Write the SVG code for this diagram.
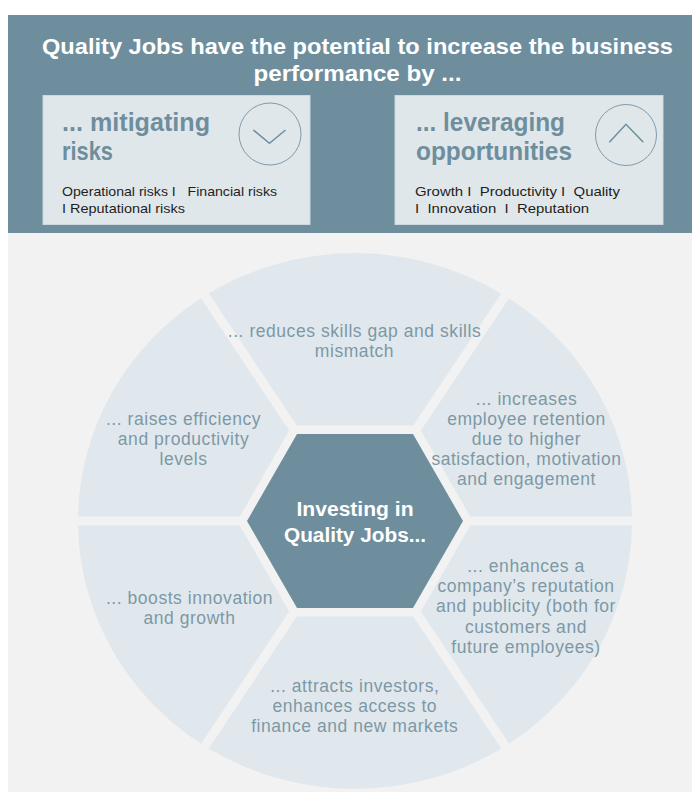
<svg xmlns="http://www.w3.org/2000/svg" width="692" height="793" viewBox="0 0 692 793">
  <style>
    .title { font-family: "Liberation Sans", Arial, sans-serif; font-weight: 700; font-size: 22px; fill: #ffffff; text-anchor: middle; }
    .boxtitle { font-family: "Liberation Sans", Arial, sans-serif; font-weight: 700; font-size: 25px; fill: #6e8e9d; }
    .small { font-family: "Liberation Sans", Arial, sans-serif; font-size: 13px; fill: #1e1e1e; }
    .seg { fill: #e1e8ed; }
    .segtxt { font-family: "Liberation Sans", Arial, sans-serif; font-size: 17.5px; letter-spacing: 0.55px; fill: #7d98a6; text-anchor: middle; }
    .hubtxt { font-family: "Liberation Sans", Arial, sans-serif; font-weight: 700; font-size: 20px; fill: #ffffff; text-anchor: middle; }
    .box { fill: #e0e7eb; stroke: #cdd8de; stroke-width: 1; }
    .icon { fill: none; stroke: #7f9bab; stroke-width: 1; }
    .chev { fill: none; stroke: #6e8e9d; stroke-width: 1.5; }
  </style>

  <rect x="0" y="0" width="692" height="793" fill="#ffffff"/>
  <rect id="body-bg" x="8" y="233" width="684" height="559" fill="#f2f2f2"/>

  <g id="header">
    <rect x="8" y="15" width="684" height="218" fill="#6e8e9d"/>
    <text class="title" x="357.5" y="54" textLength="631" lengthAdjust="spacingAndGlyphs">Quality Jobs have the potential to increase the business</text>
    <text class="title" x="357.5" y="81" textLength="208" lengthAdjust="spacingAndGlyphs">performance by ...</text>
  </g>

  <g id="box-risks">
    <rect class="box" x="43" y="95.5" width="267" height="129"/>
    <text class="boxtitle" x="62" y="131" textLength="148" lengthAdjust="spacingAndGlyphs">... mitigating</text>
    <text class="boxtitle" x="62" y="160" textLength="51" lengthAdjust="spacingAndGlyphs">risks</text>
    <circle class="icon" cx="270" cy="134" r="31"/>
    <polyline class="chev" points="253.3,130 269.5,143.3 285.5,130"/>
    <text class="small" x="62" y="196" xml:space="preserve" textLength="215" lengthAdjust="spacingAndGlyphs">Operational risks I   Financial risks</text>
    <text class="small" x="62" y="213" xml:space="preserve" textLength="123" lengthAdjust="spacingAndGlyphs">I Reputational risks</text>
  </g>

  <g id="box-opportunities">
    <rect class="box" x="395" y="95.5" width="268" height="129"/>
    <text class="boxtitle" x="416" y="131" textLength="149" lengthAdjust="spacingAndGlyphs">... leveraging</text>
    <text class="boxtitle" x="416" y="160" textLength="156" lengthAdjust="spacingAndGlyphs">opportunities</text>
    <circle class="icon" cx="626" cy="135" r="30.5"/>
    <polyline class="chev" points="609.3,142.3 626,124.3 643.3,142.3"/>
    <text class="small" x="415" y="196" xml:space="preserve" textLength="205" lengthAdjust="spacingAndGlyphs">Growth I  Productivity I  Quality</text>
    <text class="small" x="415" y="213" xml:space="preserve" textLength="174" lengthAdjust="spacingAndGlyphs">I  Innovation  I  Reputation</text>
  </g>

  <g id="seg-top">
    <path class="seg" d="M296.7,425.5 L413.3,425.5 L501.25,293.5 A277,268 0 0,0 208.75,293.5 Z"/>
    <text class="segtxt"><tspan x="354.5" y="336.5">... reduces skills gap and skills</tspan><tspan x="354.5" y="356.5">mismatch</tspan></text>
  </g>

  <g id="seg-upper-right">
    <path class="seg" d="M420.8,430.5 L509,298.2 A277,268 0 0,1 632,516.5 L470.2,516.5 Z"/>
    <text class="segtxt"><tspan x="526.5" y="404.5">... increases</tspan><tspan x="526.5" y="424.5">employee retention</tspan><tspan x="526.5" y="444.5">due to higher</tspan><tspan x="526.5" y="465">satisfaction, motivation</tspan><tspan x="526.5" y="485">and engagement</tspan></text>
  </g>

  <g id="seg-lower-right">
    <path class="seg" d="M420.8,611.5 L509,743.8 A277,268 0 0,0 632,525.5 L470.2,525.5 Z"/>
    <text class="segtxt"><tspan x="526" y="571.5">... enhances a</tspan><tspan x="526" y="591.5">company’s reputation</tspan><tspan x="526" y="612">and publicity (both for</tspan><tspan x="526" y="632.5">customers and</tspan><tspan x="526" y="652.5">future employees)</tspan></text>
  </g>

  <g id="seg-bottom">
    <path class="seg" d="M296.7,616.5 L413.3,616.5 L501.25,748.5 A277,268 0 0,1 208.75,748.5 Z"/>
    <text class="segtxt"><tspan x="354.8" y="692">... attracts investors,</tspan><tspan x="354.8" y="712">enhances access to</tspan><tspan x="354.8" y="732">finance and new markets</tspan></text>
  </g>

  <g id="seg-lower-left">
    <path class="seg" d="M289.2,611.5 L201,743.8 A277,268 0 0,1 78,525.5 L239.8,525.5 Z"/>
    <text class="segtxt"><tspan x="189.5" y="603.5">... boosts innovation</tspan><tspan x="189.5" y="623.5">and growth</tspan></text>
  </g>

  <g id="seg-upper-left">
    <path class="seg" d="M289.2,430.5 L201,298.2 A277,268 0 0,0 78,516.5 L239.8,516.5 Z"/>
    <text class="segtxt"><tspan x="183.5" y="425">... raises efficiency</tspan><tspan x="183.5" y="445">and productivity</tspan><tspan x="183.5" y="465">levels</tspan></text>
  </g>

  <g id="hub">
    <polygon points="247,521 297,434 413,434 463,521 413,608 297,608" fill="#6e8e9d"/>
    <text class="hubtxt"><tspan x="355" y="516" textLength="117" lengthAdjust="spacingAndGlyphs">Investing in</tspan><tspan x="355" y="541.5" textLength="142" lengthAdjust="spacingAndGlyphs">Quality Jobs...</tspan></text>
  </g>

  <g id="connectors"></g>
</svg>
